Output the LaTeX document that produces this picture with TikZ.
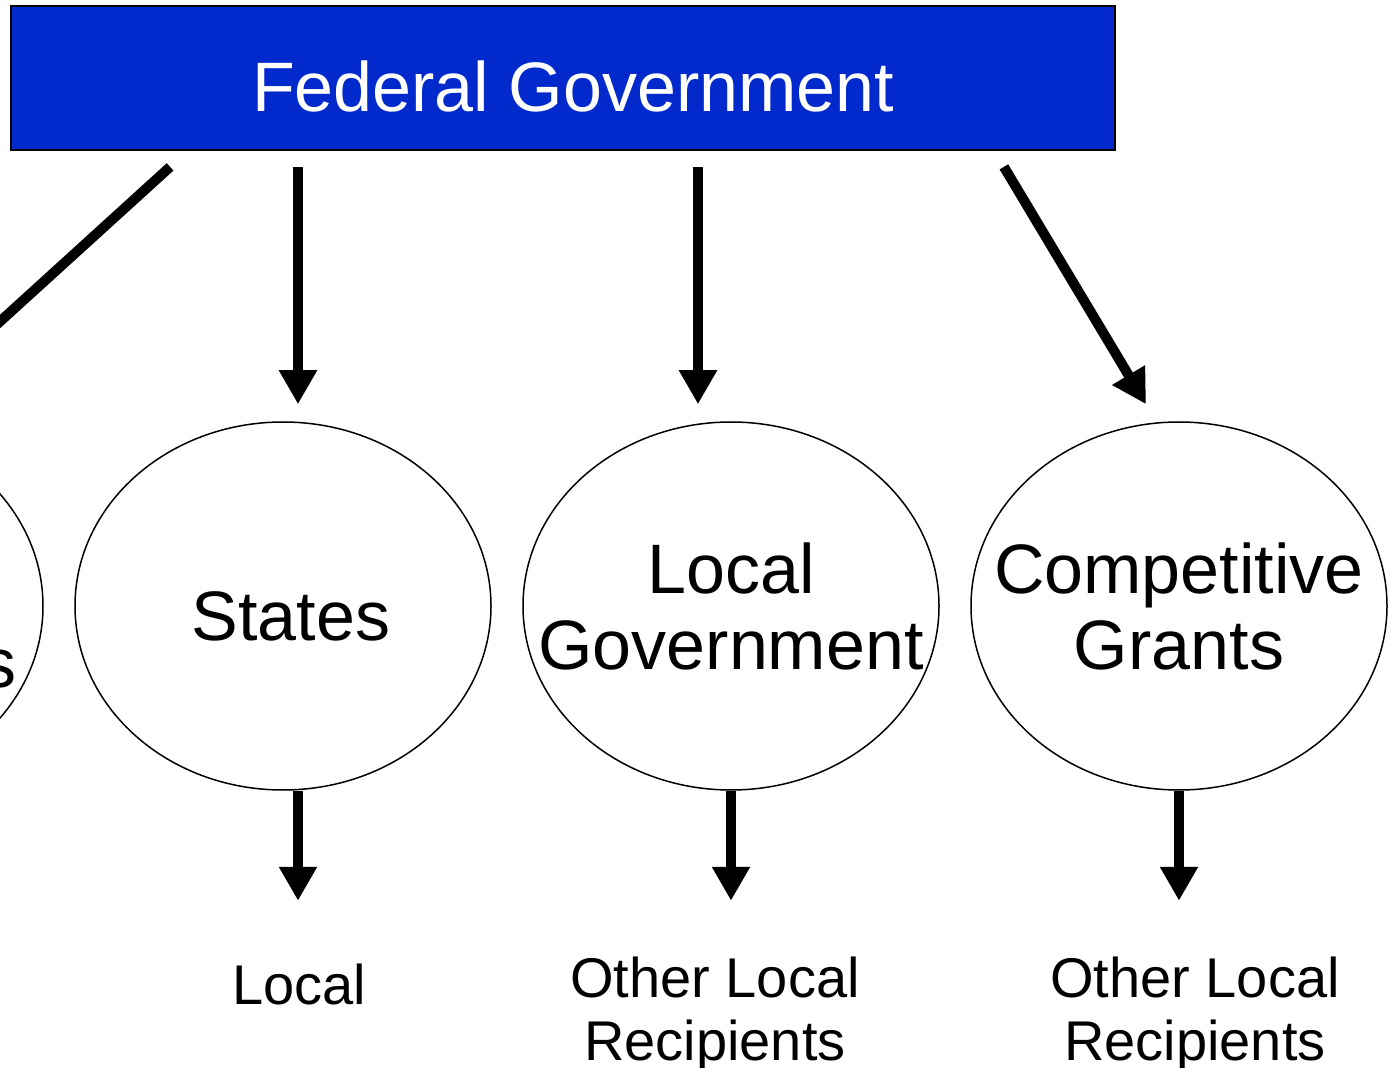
\documentclass[tikz,border=0pt]{standalone}
\usepackage{fontspec}
\setmainfont{Liberation Sans}
\usetikzlibrary{arrows.meta, positioning, shapes.geometric, calc}
\usepackage{xcolor}
\definecolor{fedblue}{HTML}{0229CC}

\begin{document}
\begin{tikzpicture}[
    x=0.5pt, y=-0.5pt,
    fedbox/.style={draw, rectangle, fill=fedblue, line width=0.9pt, minimum width=552pt, minimum height=72pt},
    fedtext/.style={text=white, font=\fontsize{35}{40}\selectfont},
    level/.style={draw, ellipse, line width=0.75pt, minimum width=208pt, minimum height=184pt, inner sep=0pt},
    leveltext/.style={align=center, inner sep=0pt, font=\fontsize{35}{38}\selectfont},
    recip/.style={align=center, font=\fontsize{28}{31.5}\selectfont},
    arrow/.style={-{Triangle[length=17pt, width=18pt]}, line width=5pt}
]
\useasboundingbox (0,0) rectangle (1391,1068);
\clip (0,0) rectangle (1391,1068);

% Federal level
\node[fedbox] (fed) at (563,78) {};
\node[fedtext] (fedlabel) at ([shift={(5pt,-4pt)}]fed.center) {Federal Government};

% Second level
\node[level] (tribes) at (-165,606) {};
\node[level] (states) at (283,606) {};
\node[level] (localgov) at (731,606) {};
\node[level] (grants) at (1179,606) {};

\node[leveltext, anchor=base east] (tribeslabel) at (17,688) {s};
\node[leveltext] (stateslabel) at ([shift={(4pt,-5pt)}]states.center) {States};
\node[leveltext] (localgovlabel) at (localgov.center) {Local\\Government};
\node[leveltext] (grantslabel) at (grants.center) {Competitive\\Grants};

% Recipients
\node[recip] (local) at (299,984) {Local};
\node[recip] (otherA) at (715,1015) {Other Local\\Recipients};
\node[recip] (otherB) at (1195,1015) {Other Local\\Recipients};

% Arrows from the federal box
\draw[arrow] ([shift={(80pt,-8pt)}]fed.south west) -- ([shift={(37pt,8.5pt)}]tribes.north);
\draw[arrow] ($(states.north |- fed.south)+(7.5pt,-8pt)$) -- ([shift={(7.5pt,8.5pt)}]states.north);
\draw[arrow] ($(localgov.north |- fed.south)+(-16.5pt,-8pt)$) -- ([shift={(-16.5pt,8.5pt)}]localgov.north);
\draw[arrow] ([shift={(-56pt,-8pt)}]fed.south east) -- ([shift={(-16.5pt,8.5pt)}]grants.north);

% Arrows down to the recipients
\draw[arrow] ([xshift=7.5pt]states.south) -- ++(0,-55pt);
\draw[arrow] (localgov.south) -- ++(0,-55pt);
\draw[arrow] (grants.south) -- ++(0,-55pt);

\end{tikzpicture}
\end{document}
